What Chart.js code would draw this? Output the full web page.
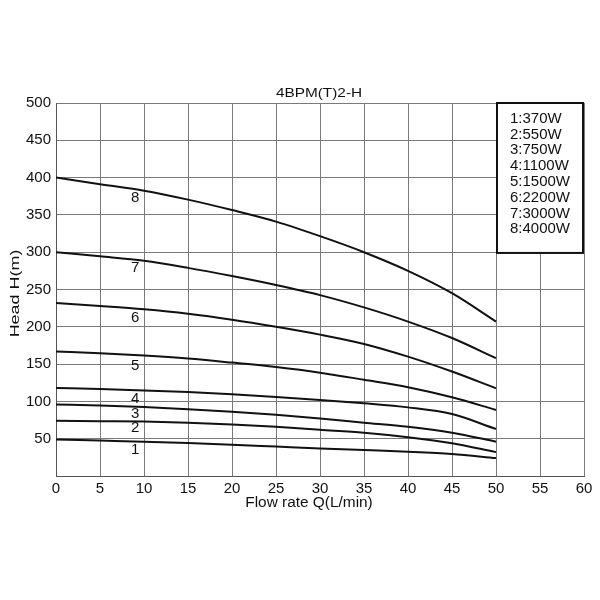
<!DOCTYPE html>
<html>
<head>
<meta charset="utf-8">
<script src="https://cdn.jsdelivr.net/npm/chart.js@4/dist/chart.umd.min.js"></script>
<style>
  html, body { margin: 0; padding: 0; background: #fff; }
  #wrap { width: 600px; height: 600px; }
</style>
</head>
<body>
<div id="wrap"><canvas id="c"></canvas></div>
<script>
const chartTitle = '4BPM(T)2-H'
const flow = [0, 5, 10, 15, 20, 25, 30, 35, 40, 45, 50]
const head1 = [49, 47.5, 46, 44.2, 42, 39.5, 37, 34.8, 32.6, 29.5, 24]
const head2 = [74, 73.5, 73, 71.5, 69, 66, 62, 58, 52, 44, 32]
const head3 = [96, 94.5, 92.5, 89.5, 86, 82, 77, 71.5, 66, 58, 46]
const head4 = [118, 116.5, 114.5, 112.5, 109.5, 106, 102, 97.5, 92, 83, 63]
const head5 = [167, 164.5, 161.5, 157.5, 152, 146, 138.5, 129, 119, 105.5, 88.5]
const head6 = [232, 228, 223.5, 217.5, 209.5, 200, 189.5, 177, 160, 140, 117.5]
const head7 = [300, 294.5, 288.5, 279, 268, 256, 242.5, 226, 207, 185, 158]
const head8 = [400, 391, 382.5, 370.5, 356.5, 341, 321.5, 300, 275, 245, 207]
const curveNames = ['1', '2', '3', '4', '5', '6', '7', '8']
const curveLabelQ = 9
const curveLabelH = [35, 64, 83, 104, 147.5, 212.5, 279, 372.5]
const legendLines = ['1:370W', '2:550W', '3:750W', '4:1100W', '5:1500W', '6:2200W', '7:3000W', '8:4000W']
const xTicks = [0, 5, 10, 15, 20, 25, 30, 35, 40, 45, 50, 55, 60]
const yTicks = [0, 50, 100, 150, 200, 250, 300, 350, 400, 450, 500]

const FONT = '"Liberation Sans", Arial, sans-serif'
const heads = [head1, head2, head3, head4, head5, head6, head7, head8]

const datasets = heads.map((h, i) => ({
    label: curveNames[i],
    data: flow.map((q, j) => ({ x: q, y: h[j] })),
    borderColor: '#111',
    borderWidth: 2,
    pointRadius: 0,
    cubicInterpolationMode: 'monotone',
    fill: false
}))

// text drawn a little wider than the font, like the scan
function stretchedText(ctx, text, x, y, size, sx, rot) {
    ctx.save()
    ctx.translate(x, y)
    if (rot) ctx.rotate(rot)
    ctx.scale(sx, 1)
    ctx.font = size + 'px ' + FONT
    ctx.fillText(text, 0, 0)
    ctx.restore()
}

const annotations = {
    id: 'annotations',
    afterDatasetsDraw(chart) {
        const { ctx, chartArea: a, scales: { x, y } } = chart
        ctx.save()
        ctx.fillStyle = '#111'
        ctx.textBaseline = 'middle'
        ctx.textAlign = 'center'

        stretchedText(ctx, chartTitle, (a.left + a.right) / 2 - 1, a.top - 9, 12, 1.28)
        stretchedText(ctx, 'Flow rate Q(L/min)', (a.left + a.right) / 2 - 11, a.bottom + 27, 14, 1.1)
        stretchedText(ctx, 'Head H(m)', 15, (a.top + a.bottom) / 2 + 4, 13, 1.38, -Math.PI / 2)

        curveNames.forEach((n, i) => {
            stretchedText(ctx, n, x.getPixelForValue(curveLabelQ), y.getPixelForValue(curveLabelH[i]), 15, 1)
        })

        // power legend box
        const bx = x.getPixelForValue(50) + 1
        const by = a.top
        const bw = a.right - bx - 1
        const bh = y.getPixelForValue(299) - by
        ctx.fillStyle = '#fff'
        ctx.fillRect(bx, by, bw, bh)
        ctx.strokeStyle = '#111'
        ctx.lineWidth = 2
        ctx.strokeRect(bx, by, bw, bh)
        ctx.fillStyle = '#111'
        ctx.textAlign = 'left'
        legendLines.forEach((t, i) => {
            stretchedText(ctx, t, bx + 13, by + 16 + i * 15.8, 14, 1.07)
        })
        ctx.restore()
    }
}

new Chart(document.getElementById('c'), {
    type: 'line',
    data: { datasets: datasets },
    options: {
        responsive: true,
        maintainAspectRatio: false,
        animation: false,
        layout: { padding: { top: 103, right: 16, left: 0, bottom: 0 } },
        plugins: {
            legend: { display: false },
            tooltip: { enabled: false }
        },
        scales: {
            x: {
                type: 'linear',
                min: 0,
                max: 60,
                afterBuildTicks: (s) => { s.ticks = xTicks.map(v => ({ value: v })) },
                afterFit: (s) => { s.height = 124 },
                grid: { color: '#7a7a7a', lineWidth: 1, drawTicks: false },
                border: { color: '#555', width: 1 },
                ticks: { color: '#111', padding: 4, font: { family: FONT, size: 15 } }
            },
            y: {
                min: 0,
                max: 500,
                afterBuildTicks: (s) => { s.ticks = yTicks.map(v => ({ value: v })) },
                afterFit: (s) => { s.width = 56 },
                grid: { color: '#7a7a7a', lineWidth: 1, drawTicks: false },
                border: { color: '#555', width: 1 },
                ticks: {
                    color: '#111',
                    padding: 5,
                    font: { family: FONT, size: 15 },
                    callback: (v) => v === 0 ? '' : v
                }
            }
        }
    },
    plugins: [annotations]
})
</script>
</body>
</html>
